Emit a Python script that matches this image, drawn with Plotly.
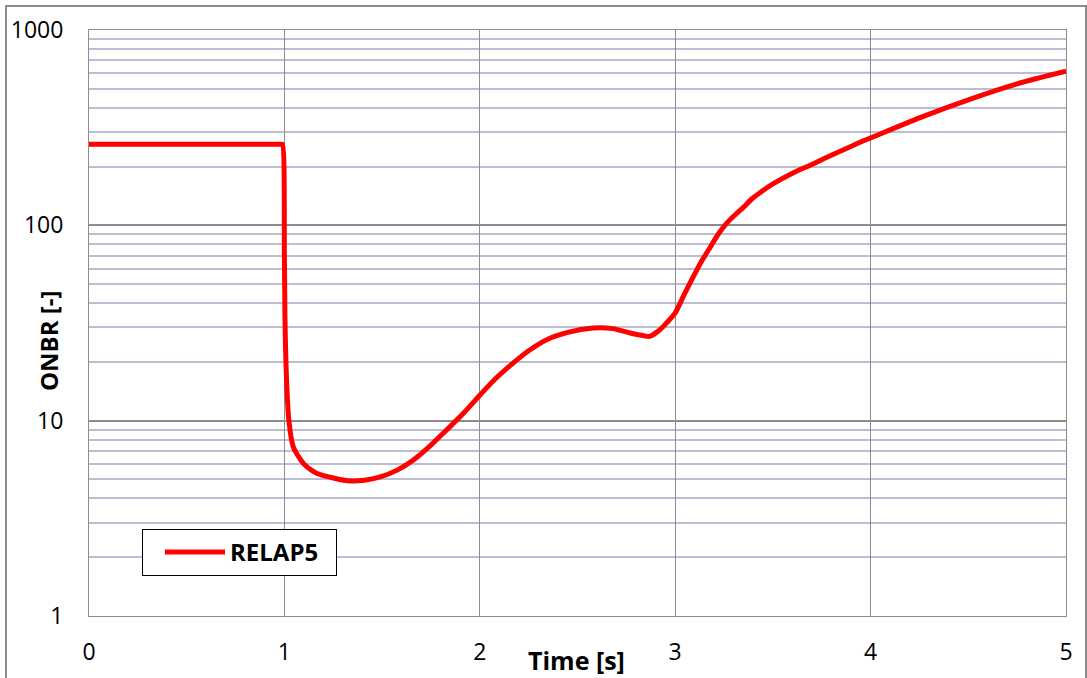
import plotly.graph_objects as go

time_s = [0.0, 0.5, 0.985, 0.99, 1.0, 1.003, 1.011, 1.023, 1.045, 1.07, 1.097, 1.13, 1.165, 1.25,
          1.336, 1.41, 1.49, 1.58, 1.66, 1.75, 1.83, 1.92, 2.0, 2.08, 2.17, 2.25, 2.34,
          2.45, 2.58, 2.68, 2.77, 2.84, 2.87, 2.92, 2.96, 3.0, 3.045, 3.09, 3.135, 3.18,
          3.22, 3.265, 3.31, 3.35, 3.39, 3.43, 3.5, 3.6, 3.7, 3.78, 3.87, 3.95, 4.0, 4.25,
          4.5, 4.75, 5.0]
onbr = [260, 260, 260, 260, 70, 33, 16.2, 10.0, 7.36, 6.6, 6.05, 5.65, 5.38, 5.09,
        4.91, 4.95, 5.15, 5.6, 6.29, 7.5, 8.96, 11.0, 13.5, 16.4, 19.7, 22.8, 25.9,
        28.3, 29.8, 29.6, 28.1, 27.2, 27.0, 29.1, 32.0, 35.6, 44.0, 54.0, 65.5, 77.5,
        90.0, 103, 114, 124, 136, 146, 163, 185, 205, 224, 246, 267, 280, 355,
        439, 530, 615]

y_ticks = [1, 10, 100, 1000]
y_tick_text = ["1", "10", "100", "1000"]
x_ticks = [0, 1, 2, 3, 4, 5]
minor_vals = [m * d for d in (1, 10, 100) for m in range(2, 10)]

fig = go.Figure()
fig.add_trace(go.Scatter(x=time_s, y=onbr, mode="lines", name="RELAP5\u00a0\u00a0",
                         line=dict(color="#ff0000", width=5, shape="spline", smoothing=0.8)))

W, H = 1087, 678
L, R, T, B = 89, 21, 30, 62
pw, ph = W - L - R, H - T - B

def px(x):
    return (x - L) / pw

def py(y):
    return (H - B - y) / ph

fig.update_layout(
    width=W, height=H,
    margin=dict(l=L, r=R, t=T, b=B),
    paper_bgcolor="white", plot_bgcolor="white",
    font=dict(family="Open Sans", color="black"),
    showlegend=True,
    legend=dict(x=px(142), y=py(529), xanchor="left", yanchor="top",
                bordercolor="black", borderwidth=1, bgcolor="white",
                font=dict(size=24, family="Open Sans", color="black", weight="bold"),
                itemwidth=60, tracegroupgap=0, indentation=17),
    xaxis=dict(range=[0, 5], tickvals=x_ticks, showgrid=True, gridcolor="#8c8c8c",
               gridwidth=1, showline=True, linecolor="#8c8c8c", linewidth=1, mirror=True,
               zeroline=False, ticks="", tickfont=dict(size=23), ticklabelstandoff=15),
    yaxis=dict(type="log", range=[0, 3], tickvals=y_ticks, ticktext=y_tick_text,
               showgrid=True, gridcolor="#8c8c8c", gridwidth=1.5,
               showline=True, linecolor="#8c8c8c", linewidth=1, mirror=True,
               zeroline=False, ticks="", tickfont=dict(size=23), ticklabelstandoff=20,
               minor=dict(tickvals=minor_vals, showgrid=True, gridcolor="#bcbcd4",
                          gridwidth=1.5, ticks="")),
    annotations=[
        dict(text="<b>Time [s]</b>", xref="paper", yref="paper", x=px(576), y=py(660),
             showarrow=False, font=dict(size=25), xanchor="center", yanchor="middle"),
        dict(text="<b>ONBR [-]</b>", xref="paper", yref="paper", x=px(48), y=py(341),
             showarrow=False, font=dict(size=24), textangle=-90,
             xanchor="center", yanchor="middle"),
    ],
    shapes=[dict(type="rect", xref="paper", yref="paper",
                 x0=px(6), x1=px(1086), y0=py(683), y1=py(6),
                 line=dict(color="#8c8c8c", width=2), layer="below")],
)

fig.write_html("out.html")
